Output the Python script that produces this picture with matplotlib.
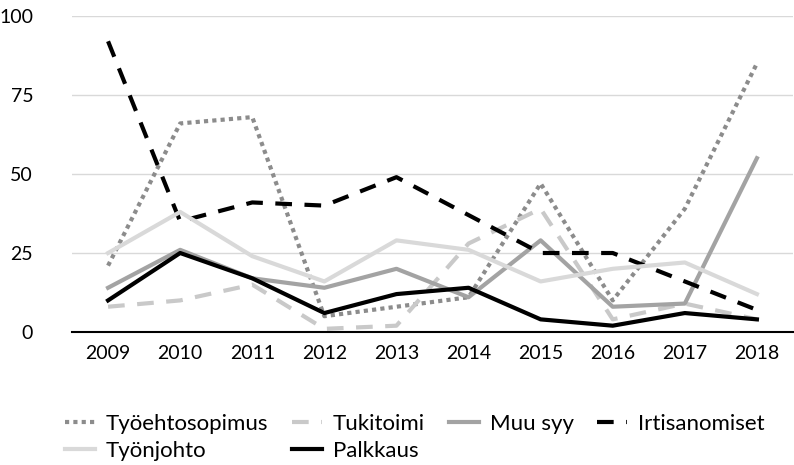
import numpy as np
import matplotlib.pyplot as plt

plt.rcParams['font.family'] = ['Lato', 'DejaVu Sans']

years = ['2009', '2010', '2011', '2012', '2013', '2014', '2015', '2016', '2017', '2018']

# values
tyoehtosopimus = [21, 66, 68, 5, 8, 11, 47, 10, 39, 85]
tukitoimi = [8, 10, 15, 1, 2, 28, 39, 4, 9, 4]
muu_syy = [14, 26, 17, 14, 20, 11, 29, 8, 9, 55]
irtisanomiset = [92, 35, 41, 40, 49, 37, 25, 25, 16, 7]
tyonjohto = [25, 38, 24, 16, 29, 26, 16, 20, 22, 12]
palkkaus = [10, 25, 17, 6, 12, 14, 4, 2, 6, 4]

fig = plt.figure(figsize=(7.94, 4.65), dpi=100)
ax = fig.add_axes([0.0907, 0.286, 0.908, 0.6796])

x = np.arange(len(years))
lw = 3
l1, = ax.plot(x, tyoehtosopimus, color='#8c8c8c', lw=lw, linestyle=(0, (1, 1)), label='Työehtosopimus')
l2, = ax.plot(x, tukitoimi, color='#c9c9c9', lw=lw, linestyle=(0, (4, 3)), label='Tukitoimi')
l3, = ax.plot(x, muu_syy, color='#a3a3a3', lw=lw, label='Muu syy')
l4, = ax.plot(x, irtisanomiset, color='black', lw=lw, linestyle=(0, (4, 3)), label='Irtisanomiset')
l5, = ax.plot(x, tyonjohto, color='#d9d9d9', lw=lw, label='Työnjohto')
l6, = ax.plot(x, palkkaus, color='black', lw=lw, label='Palkkaus')

ax.set_xlim(-0.5, len(years) - 0.5)
ax.set_ylim(0, 100)
ax.set_xticks(x)
ax.set_xticklabels(years)
ax.set_yticks([0, 25, 50, 75, 100])
ax.yaxis.grid(True, color='#d9d9d9', lw=1)
ax.set_axisbelow(True)
for s in ['top', 'right', 'left']:
    ax.spines[s].set_visible(False)
ax.spines['bottom'].set_linewidth(1.5)
ax.tick_params(axis='both', length=0, labelsize=14, colors='black')
ax.tick_params(axis='x', pad=9)
ax.tick_params(axis='y', pad=28)

# legend filled column by column, so reorder to read row-wise
handles = [l1, l5, l2, l6, l3, l4]
fig.legend(handles=handles, labels=[h.get_label() for h in handles],
           loc='upper left', bbox_to_anchor=(65 / 794, 1 - 414 / 465), ncol=4, frameon=False,
           fontsize=16, handlelength=1.35, handletextpad=0.5, columnspacing=1.05,
           labelspacing=0.3, borderpad=0, borderaxespad=0)

fig.savefig('out.png', dpi=100)
